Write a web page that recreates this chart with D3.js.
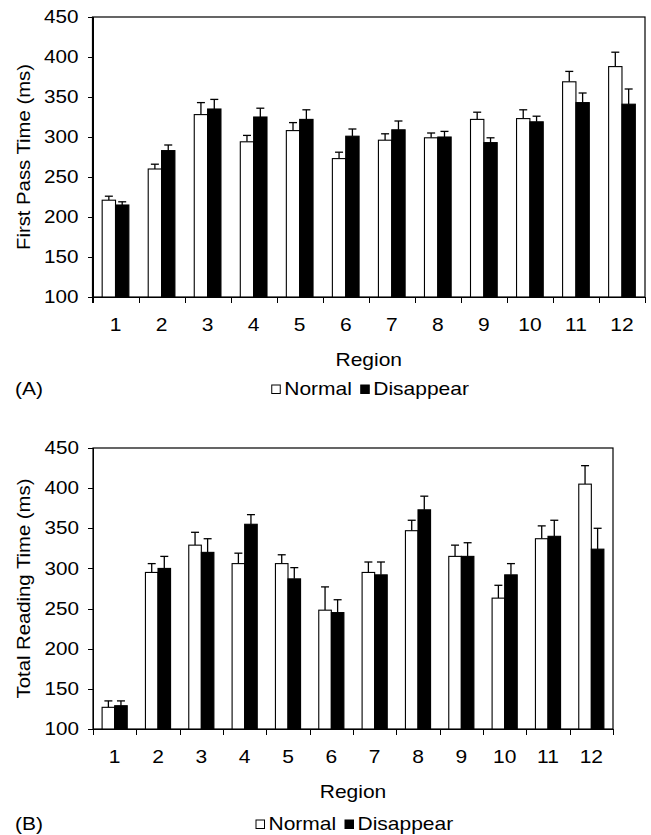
<!DOCTYPE html>
<html>
<head>
<meta charset="utf-8">
<script src="https://d3js.org/d3.v7.min.js"></script>
<style>
  body { margin: 0; background: #fff; }
  text { font-family: "Liberation Sans", Arial, sans-serif; font-size: 17.5px; fill: #000; }
  .wide { transform-box: fill-box; transform-origin: center; transform: scaleX(1.2); }
  .wide-r { transform-box: fill-box; transform-origin: right center; transform: scaleX(1.18); }
  .wide-l { transform-box: fill-box; transform-origin: left center; transform: scaleX(1.2); }
  .axis path, .axis line { stroke: #000; shape-rendering: crispEdges; }
</style>
</head>
<body>
<svg id="main" width="651" height="835"></svg>
<script>
var regions = ["1","2","3","4","5","6","7","8","9","10","11","12"];
var yTicks = [100,150,200,250,300,350,400,450];
var seriesNames = ["Normal","Disappear"];

// panel A: first pass time
var firstNormal    = [221,260,328,294,308,273,296,299,322,323,369,388];
var firstNormalErr = [5,6,15,8,10,8,8,6,9,11,13,18];
var firstDisap     = [215,283,335,325,322,301,309,300,293,319,343,341];
var firstDisapErr  = [4,7,12,11,12,9,11,7,6,7,12,19];

// panel B: total reading time
var totalNormal    = [127,295,329,306,306,248,295,347,315,263,337,405];
var totalNormalErr = [8,11,16,13,11,29,13,13,14,16,16,23];
var totalDisap     = [129,300,320,355,287,245,292,373,315,292,340,324];
var totalDisapErr  = [6,15,17,12,14,16,16,17,17,14,20,26];

var svg = d3.select("#main");

function drawPanel(p) {
  var y = d3.scaleLinear().domain([100,450]).range([p.bottom, p.top]);
  var x = d3.scaleBand().domain(regions).range([p.left, p.right]);
  var xb = d3.scaleLinear().domain([0,12]).range([p.left, p.right]);
  var g = svg.append("g");
  var bw = x.step() * 0.29;

  // frame
  g.append("rect").attr("x", p.left).attr("y", p.top)
    .attr("width", p.right - p.left).attr("height", p.bottom - p.top)
    .attr("fill", "none").attr("stroke", "#000").attr("stroke-width", 1.2);

  var rows = regions.map(function(r, i) {
    return {r: r, v: [p.normal[i], p.disap[i]], e: [p.normalErr[i], p.disapErr[i]]};
  });

  var grp = g.selectAll(".grp").data(rows).enter().append("g");
  [0,1].forEach(function(k) {
    var bx = function(d) { return x(d.r) + x.bandwidth()/2 - bw + k*bw; };
    // error bar
    grp.append("line")
      .attr("x1", function(d) { return bx(d) + bw/2; })
      .attr("x2", function(d) { return bx(d) + bw/2; })
      .attr("y1", function(d) { return y(d.v[k]); })
      .attr("y2", function(d) { return y(d.v[k] + d.e[k]); })
      .attr("stroke", "#000").attr("stroke-width", 1.3);
    grp.append("line")
      .attr("x1", function(d) { return bx(d) + bw/2 - 4; })
      .attr("x2", function(d) { return bx(d) + bw/2 + 4; })
      .attr("y1", function(d) { return y(d.v[k] + d.e[k]); })
      .attr("y2", function(d) { return y(d.v[k] + d.e[k]); })
      .attr("stroke", "#000").attr("stroke-width", 1.3);
    grp.append("rect")
      .attr("x", bx)
      .attr("y", function(d) { return y(d.v[k]); })
      .attr("width", bw)
      .attr("height", function(d) { return p.bottom - y(d.v[k]); })
      .attr("fill", k == 0 ? "#fff" : "#000")
      .attr("stroke", "#000").attr("stroke-width", 1.1);
  });

  // y axis
  var ya = g.append("g").attr("class", "axis").attr("transform", "translate(" + p.left + ",0)")
    .call(d3.axisLeft(y).tickValues(yTicks).tickSize(5).tickPadding(9));
  ya.select(".domain").attr("stroke-width", 1.8);
  ya.selectAll("text").attr("class", "wide-r").style("font-size", "17.5px")
    .style("font-family", "Liberation Sans, Arial, sans-serif");

  // x boundary ticks
  var xt = g.append("g").attr("class", "axis").attr("transform", "translate(0," + p.bottom + ")")
    .call(d3.axisBottom(xb).tickValues(d3.range(13)).tickSize(6).tickFormat(""));
  xt.select(".domain").attr("stroke-width", 1.2);
  // x labels
  var xl = g.append("g").attr("transform", "translate(0," + p.bottom + ")")
    .call(d3.axisBottom(x).tickSize(0).tickPadding(22));
  xl.select(".domain").remove();
  xl.selectAll("text").attr("class", "wide").style("font-size", "17.5px")
    .style("font-family", "Liberation Sans, Arial, sans-serif");

  var cx = (p.left + p.right) / 2;
  g.append("text").attr("class", "wide").attr("x", cx).attr("y", p.bottom + 69)
    .attr("text-anchor", "middle").text("Region");

  g.append("text")
    .attr("transform", "translate(30," + ((p.top + p.bottom)/2) + ") rotate(-90) scale(1.16,1)")
    .attr("text-anchor", "middle").text(p.ytitle);

  g.append("text").attr("class", "wide-l").attr("x", 15).attr("y", p.legendY).text(p.tag);

  // legend
  var lx = cx - 97;
  var leg = g.selectAll(".leg").data(seriesNames).enter().append("g")
    .attr("transform", function(d, i) { return "translate(" + (lx + i*89) + "," + p.legendY + ")"; });
  leg.append("rect").attr("x", 0).attr("y", -10).attr("width", 8.5).attr("height", 8.5)
    .attr("fill", function(d, i) { return i == 0 ? "#fff" : "#000"; })
    .attr("stroke", "#000").attr("stroke-width", 1);
  leg.append("text").attr("class", "wide-l").attr("x", 12.5).attr("y", 0).text(function(d) { return d; });
}

drawPanel({left: 92.5, right: 645, top: 17, bottom: 297, legendY: 395, tag: "(A)",
  ytitle: "First Pass Time (ms)",
  normal: firstNormal, normalErr: firstNormalErr, disap: firstDisap, disapErr: firstDisapErr});
drawPanel({left: 93, right: 613, top: 448, bottom: 729, legendY: 830, tag: "(B)",
  ytitle: "Total Reading Time (ms)",
  normal: totalNormal, normalErr: totalNormalErr, disap: totalDisap, disapErr: totalDisapErr});
</script>
</body>
</html>
